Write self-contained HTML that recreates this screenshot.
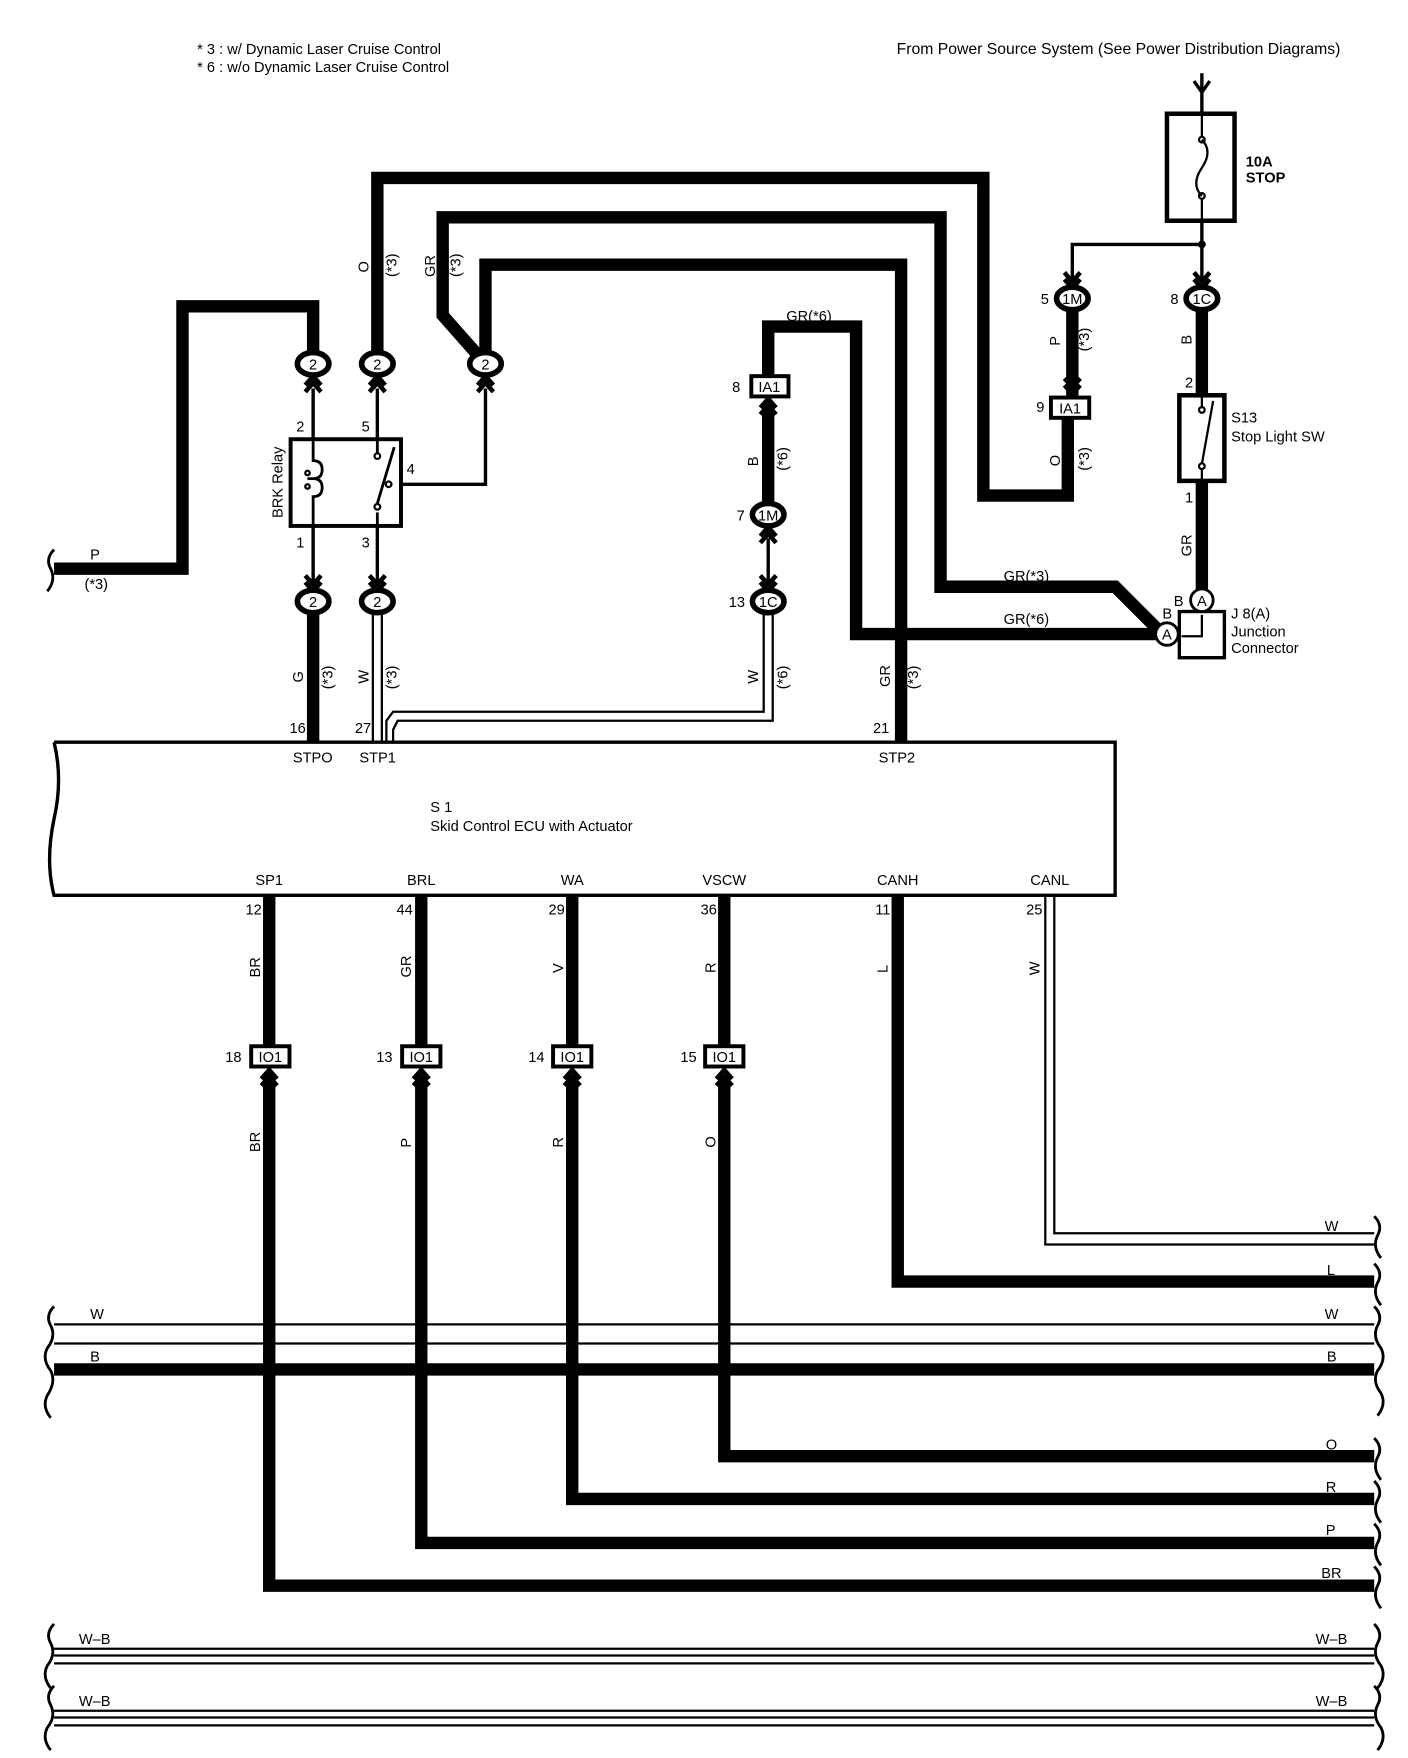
<!DOCTYPE html>
<html><head><style>html,body{margin:0;padding:0;background:#fff}svg{display:block}text{font-family:"Liberation Sans",sans-serif;font-size:13px;fill:#000}</style></head><body>
<svg width="1408" height="1758" viewBox="0 0 1250 1561" preserveAspectRatio="none" xmlns="http://www.w3.org/2000/svg">
<defs>
<g id="chevU"><polyline points="-7,8 0,0 7,8" fill="none" stroke="#000" stroke-width="4"/><polyline points="-7,14 0,6 7,14" fill="none" stroke="#000" stroke-width="4"/></g>
<g id="chevD"><polyline points="-7,-8 0,0 7,-8" fill="none" stroke="#000" stroke-width="4"/><polyline points="-7,-14 0,-6 7,-14" fill="none" stroke="#000" stroke-width="4"/></g>
</defs>
<g fill="none" stroke="#000" stroke-linejoin="miter">
<g stroke-width="11">
<polyline points="278,323 278,272 162,272 162,505 48,505"/>
<polyline points="335,323 335,158 873,158 873,440 948,440 948,370"/>
<polyline points="431,323 393,280 393,193 835,193 835,521 990,521 1032,563"/>
<polyline points="431,323 431,235 800,235 800,660"/>
<polyline points="682,334 682,290 760,290 760,563 1032,563"/>
<line x1="952" y1="275" x2="952" y2="353"/>
<line x1="1067" y1="275" x2="1067" y2="350"/>
<line x1="1067" y1="428" x2="1067" y2="524"/>
<line x1="682" y1="360" x2="682" y2="448"/>
<line x1="278" y1="544" x2="278" y2="660"/>
<polyline points="239,795 239,929"/><polyline points="374,795 374,929"/><polyline points="508,795 508,929"/><polyline points="643,795 643,929"/>
<polyline points="239,955 239,1408 1220,1408"/>
<polyline points="374,955 374,1370 1220,1370"/>
<polyline points="508,955 508,1331 1220,1331"/>
<polyline points="643,955 643,1293 1220,1293"/>
<polyline points="797,795 797,1138 1220,1138"/>
<line x1="48" y1="1216" x2="1220" y2="1216"/>
</g>
<g stroke-width="3">
<line x1="1067" y1="65" x2="1067" y2="100"/>
<polyline points="1060,72 1067,82 1074,72"/>
<polyline points="1067,197 1067,217 952,217 952,250"/>
<line x1="1067" y1="217" x2="1067" y2="250"/>
<line x1="278" y1="345" x2="278" y2="520"/>
<line x1="335" y1="345" x2="335" y2="400"/>
<line x1="335" y1="455" x2="335" y2="520"/>
<polyline points="345,430 431,430 431,345"/>
<line x1="682" y1="478" x2="682" y2="520"/>
</g>
<g stroke-width="2">
<polyline points="331,544 331,660"/><polyline points="339,544 339,660"/>
<polyline points="678,544 678,632 349,632 343,640 343,660"/>
<polyline points="686,544 686,640 353,640 349,648 349,660"/>
<polyline points="928,795 928,1105 1220,1105"/>
<polyline points="936,795 936,1095 1220,1095"/>
<line x1="48" y1="1176" x2="1220" y2="1176"/><line x1="48" y1="1193" x2="1220" y2="1193"/>
<line x1="48" y1="1464" x2="1220" y2="1464"/><line x1="48" y1="1470" x2="1220" y2="1470"/><line x1="48" y1="1477" x2="1220" y2="1477"/>
<line x1="48" y1="1519" x2="1220" y2="1519"/><line x1="48" y1="1525" x2="1220" y2="1525"/><line x1="48" y1="1532" x2="1220" y2="1532"/>
</g>
<g stroke-width="2.5">
<path d="M48,488 q-8,8 -3,17 q5,10 -3,20"/>
<path d="M48,1160 q-8,8 -3,17 q5,10 -3,20 q-5,10 3,20 q5,10 -3,22 q-5,10 3,20"/>
<path d="M48,1442 q-8,8 -3,17 q5,10 -3,20 q-5,10 3,20"/>
<path d="M48,1497 q-8,8 -3,17 q5,10 -3,20 q-5,10 3,20"/>
<path d="M1220,1080 q8,8 3,17 q-5,10 3,20"/>
<path d="M1220,1122 q8,8 3,17 q-5,10 3,20"/>
<path d="M1220,1160 q8,8 3,17 q-5,10 3,20 q5,10 -3,20 q-5,10 3,20 q5,10 -3,20"/>
<path d="M1220,1277 q8,8 3,17 q-5,10 3,20"/>
<path d="M1220,1315 q8,8 3,17 q-5,10 3,20"/>
<path d="M1220,1353 q8,8 3,17 q-5,10 3,20"/>
<path d="M1220,1391 q8,8 3,17 q-5,10 3,20"/>
<path d="M1220,1442 q8,8 3,17 q-5,10 3,20 q5,10 -3,20"/>
<path d="M1220,1497 q8,8 3,17 q-5,10 3,20 q5,10 -3,20"/>
</g>
<path d="M48,659 L990,659 L990,795 L48,795 q-8,-30 0,-68 q8,-35 0,-68" stroke-width="3" fill="#fff"/>
<rect x="1036" y="101" width="60" height="95" stroke-width="4" fill="#fff"/>
<line x1="1067" y1="101" x2="1067" y2="122" stroke-width="2"/><line x1="1067" y1="176" x2="1067" y2="196" stroke-width="2"/>
<path d="M1067,124 q10,10 0,25 q-10,15 0,25" stroke-width="2"/>
<circle cx="1067" cy="124" r="2.5" stroke-width="2"/><circle cx="1067" cy="174" r="2.5" stroke-width="2"/>
<circle cx="1067" cy="217" r="3" fill="#000"/>
<rect x="1047" y="351" width="40" height="76" stroke-width="4" fill="#fff"/>
<line x1="1067" y1="351" x2="1067" y2="362" stroke-width="2"/><line x1="1067" y1="416" x2="1067" y2="427" stroke-width="2"/>
<circle cx="1067" cy="364" r="2.5" stroke-width="2"/><circle cx="1067" cy="414" r="2.5" stroke-width="2"/>
<line x1="1067" y1="412" x2="1077" y2="356" stroke-width="2"/>
<rect x="1047" y="543" width="40" height="41" stroke-width="3" fill="#fff"/>
<polyline points="1049,565 1067,565 1067,546" stroke-width="2"/>
<rect x="258" y="390" width="98" height="77" stroke-width="3.5" fill="#fff"/>
<path d="M278,390 L278,409 q8,0 8,8 q0,8 -8,8 q-8,0 0,0 q8,0 8,8 q0,8 -8,8 L278,467" stroke-width="2.5"/>
<circle cx="273" cy="420" r="2" stroke-width="2"/><circle cx="273" cy="432" r="2" stroke-width="2"/>
<line x1="335" y1="390" x2="335" y2="402" stroke-width="2.5"/><line x1="335" y1="455" x2="335" y2="467" stroke-width="2.5"/>
<circle cx="335" cy="405" r="2.5" stroke-width="2"/><circle cx="335" cy="450" r="2.5" stroke-width="2"/><circle cx="345" cy="430" r="2.5" stroke-width="2"/>
<line x1="335" y1="447" x2="350" y2="397" stroke-width="2.5"/>
</g>
<use href="#chevD" x="952" y="256"/><use href="#chevD" x="1067" y="256"/>
<use href="#chevD" x="952" y="350"/>
<use href="#chevU" x="278" y="334"/><use href="#chevU" x="335" y="334"/><use href="#chevU" x="431" y="334"/>
<use href="#chevD" x="278" y="525"/><use href="#chevD" x="335" y="525"/>
<use href="#chevU" x="682" y="354"/><use href="#chevU" x="682" y="468"/><use href="#chevD" x="682" y="525"/>
<use href="#chevU" x="239" y="950"/><use href="#chevU" x="374" y="950"/><use href="#chevU" x="508" y="950"/><use href="#chevU" x="643" y="950"/>
<g stroke="#000" stroke-width="5" fill="#fff">
<ellipse cx="278" cy="323" rx="14" ry="10"/><ellipse cx="335" cy="323" rx="14" ry="10"/><ellipse cx="431" cy="323" rx="14" ry="10"/>
<ellipse cx="278" cy="534" rx="14" ry="10"/><ellipse cx="335" cy="534" rx="14" ry="10"/>
<ellipse cx="952" cy="265" rx="14" ry="10"/><ellipse cx="1067" cy="265" rx="14" ry="10"/>
<ellipse cx="682" cy="457" rx="14" ry="10"/><ellipse cx="682" cy="534" rx="14" ry="10"/>
<ellipse cx="1067" cy="533" rx="10" ry="10" stroke-width="2.5"/><ellipse cx="1036" cy="563" rx="10" ry="10" stroke-width="2.5"/>
<rect x="667" y="334" width="33" height="18" stroke-width="3.5"/><rect x="933" y="353" width="34" height="18" stroke-width="3.5"/>
<rect x="223" y="929" width="34" height="18" stroke-width="3.5"/><rect x="357" y="929" width="34" height="18" stroke-width="3.5"/><rect x="491" y="929" width="34" height="18" stroke-width="3.5"/><rect x="626" y="929" width="34" height="18" stroke-width="3.5"/>
</g>
<g text-anchor="middle">
<text x="278" y="328">2</text><text x="335" y="328">2</text><text x="431" y="328">2</text><text x="278" y="539">2</text><text x="335" y="539">2</text>
<text x="952" y="270">1M</text><text x="1067" y="270">1C</text><text x="682" y="462">1M</text><text x="682" y="539">1C</text>
<text x="1067" y="538">A</text><text x="1036" y="568">A</text>
<text x="683" y="348">IA1</text><text x="950" y="367">IA1</text>
<text x="240" y="943">IO1</text><text x="374" y="943">IO1</text><text x="508" y="943">IO1</text><text x="643" y="943">IO1</text>
</g>
<text x="175" y="48" style="font-size:13px">*  3 : w/ Dynamic Laser Cruise Control</text>
<text x="175" y="64" style="font-size:13px">*  6 : w/o Dynamic Laser Cruise Control</text>
<text x="796" y="48" style="font-size:14px">From Power Source System (See Power Distribution Diagrams)</text>
<text x="1106" y="148" font-weight="bold">10A</text><text x="1106" y="162" font-weight="bold">STOP</text>
<text x="924" y="270">5</text><text x="1039" y="270">8</text><text x="920" y="366">9</text>
<text x="1052" y="344">2</text><text x="1052" y="446">1</text>
<text x="1093" y="375">S13</text><text x="1093" y="392">Stop Light SW</text>
<text x="1042" y="538">B</text><text x="1032" y="549">B</text>
<text x="1093" y="549">J 8(A)</text><text x="1093" y="565">Junction</text><text x="1093" y="580">Connector</text>
<text x="698" y="285">GR(*6)</text><text x="891" y="516">GR(*3)</text><text x="891" y="554">GR(*6)</text>
<text x="650" y="348">8</text><text x="654" y="462">7</text><text x="647" y="539">13</text>
<text x="263" y="383">2</text><text x="321" y="383">5</text><text x="361" y="421">4</text><text x="263" y="486">1</text><text x="321" y="486">3</text>
<text transform="translate(251,460) rotate(-90)">BRK Relay</text>
<text x="80" y="497">P</text><text x="75" y="523">(*3)</text>
<text x="257" y="651">16</text><text x="315" y="651">27</text><text x="775" y="651">21</text>
<text x="260" y="677">STPO</text><text x="319" y="677">STP1</text><text x="780" y="677">STP2</text>
<text x="382" y="721">S 1</text><text x="382" y="738">Skid Control ECU with Actuator</text>
<g text-anchor="middle">
<text x="239" y="786">SP1</text><text x="374" y="786">BRL</text><text x="508" y="786">WA</text><text x="643" y="786">VSCW</text><text x="797" y="786">CANH</text><text x="932" y="786">CANL</text>
</g>
<text x="218" y="812">12</text><text x="352" y="812">44</text><text x="487" y="812">29</text><text x="622" y="812">36</text><text x="777" y="812">11</text><text x="911" y="812">25</text>
<text x="200" y="943">18</text><text x="334" y="943">13</text><text x="469" y="943">14</text><text x="604" y="943">15</text>
<g>
<text transform="translate(327,242) rotate(-90)">O</text><text transform="translate(352,246) rotate(-90)">(*3)</text>
<text transform="translate(386,246) rotate(-90)">GR</text><text transform="translate(409,246) rotate(-90)">(*3)</text>
<text transform="translate(941,307) rotate(-90)">P</text><text transform="translate(967,312) rotate(-90)">(*3)</text>
<text transform="translate(941,414) rotate(-90)">O</text><text transform="translate(967,418) rotate(-90)">(*3)</text>
<text transform="translate(1058,306) rotate(-90)">B</text><text transform="translate(1058,494) rotate(-90)">GR</text>
<text transform="translate(673,414) rotate(-90)">B</text><text transform="translate(699,418) rotate(-90)">(*6)</text>
<text transform="translate(269,606) rotate(-90)">G</text><text transform="translate(295,612) rotate(-90)">(*3)</text>
<text transform="translate(327,607) rotate(-90)">W</text><text transform="translate(352,612) rotate(-90)">(*3)</text>
<text transform="translate(673,607) rotate(-90)">W</text><text transform="translate(699,612) rotate(-90)">(*6)</text>
<text transform="translate(790,610) rotate(-90)">GR</text><text transform="translate(815,612) rotate(-90)">(*3)</text>
<text transform="translate(231,868) rotate(-90)">BR</text><text transform="translate(365,868) rotate(-90)">GR</text><text transform="translate(500,864) rotate(-90)">V</text><text transform="translate(635,864) rotate(-90)">R</text><text transform="translate(788,864) rotate(-90)">L</text><text transform="translate(923,866) rotate(-90)">W</text>
<text transform="translate(231,1023) rotate(-90)">BR</text><text transform="translate(365,1019) rotate(-90)">P</text><text transform="translate(500,1019) rotate(-90)">R</text><text transform="translate(635,1019) rotate(-90)">O</text>
</g>
<text x="1176" y="1093">W</text><text x="1178" y="1132">L</text><text x="1176" y="1171">W</text><text x="1178" y="1209">B</text>
<text x="1177" y="1287">O</text><text x="1177" y="1325">R</text><text x="1177" y="1363">P</text><text x="1173" y="1401">BR</text>
<text x="1168" y="1460">W–B</text><text x="1168" y="1515">W–B</text>
<text x="80" y="1171">W</text><text x="80" y="1209">B</text><text x="70" y="1460">W–B</text><text x="70" y="1515">W–B</text>
</svg>
</body></html>
